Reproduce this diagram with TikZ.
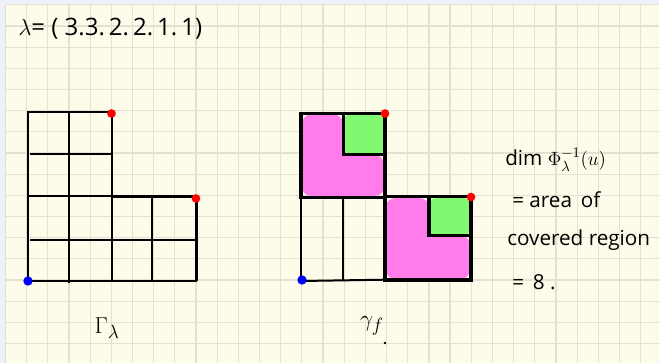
\documentclass[tikz,border=0pt]{standalone}
\usepackage{fontspec}
\setmainfont{Open Sans}
\begin{document}
\begin{tikzpicture}[x=0.75pt,y=-0.75pt,
  txt/.style={anchor=west,inner sep=0pt,font=\fontsize{15.5}{18}\selectfont},
  lbl/.style={inner sep=0pt,font=\fontsize{19}{21}\selectfont},
  thin/.style={line width=1.5pt,black},
  mid/.style={line width=1.6pt,black},
  thick/.style={line width=2.3pt,black},
  reddot/.style={fill=red,circle,minimum size=6.5pt,inner sep=0pt},
  bluedot/.style={fill=blue,circle,minimum size=7pt,inner sep=0pt}]
\definecolor{paper}{HTML}{FDFBEA}
\definecolor{lav}{HTML}{EEF0FB}
\definecolor{gridc}{HTML}{E4E1D0}
\definecolor{pinkc}{HTML}{FF7CEA}
\definecolor{greenc}{HTML}{80F870}
\useasboundingbox (0,0) rectangle (659,363);
\fill[lav] (0,0) rectangle (659,363);
\fill[paper] (5.5,4.8) rectangle (659,363);
\foreach \k in {0,...,31} {\draw[gridc,line width=0.9pt] (5.5+21.17*\k,4.8) -- (5.5+21.17*\k,363);}
\foreach \k in {0,...,17} {\draw[gridc,line width=0.9pt] (5.5,4.8+21.17*\k) -- (659,4.8+21.17*\k);}

% title
\node[txt,font=\fontsize{18}{20}\selectfont] (title) at (18,29) {$\lambda$= ( 3.3.\kern3pt2.\kern3pt2.\kern3pt1.\kern3pt1)};

% left diagram
\draw[mid] (196.5,281) -- (28,281) -- (28,111.7) -- (111.7,111.7) -- (111.7,196.5) -- (196.5,196.5) -- (196.5,281);
\draw[mid] (30,154.3) -- (113,154.3);
\draw[mid] (28,196) -- (111.7,196);
\draw[mid] (30,240) -- (197,240);
\draw[mid] (69.3,111.7) -- (69.3,283);
\draw[mid] (111.7,196) -- (111.7,281);
\draw[mid] (152.3,198) -- (152.3,281);
\node[reddot] (r1) at (111.5,113.5) {};
\node[reddot] (r2) at (196,198.5) {};
\node[bluedot] (b1) at (28,281) {};
\node[lbl] (gam) at (107,328) {$\Gamma_\lambda$};

% right diagram fills
\fill[pinkc,rounded corners=7pt] (302,114.5) -- (343,114.5) -- (343,155) -- (384,155) -- (384,196) -- (302,196) -- cycle;
\fill[greenc,rounded corners=4pt] (344,114.5) rectangle (384,154);
\fill[pinkc,rounded corners=7pt] (386,198) -- (429,198) -- (429,236) -- (470,236) -- (470,279) -- (386,279) -- cycle;
\fill[greenc,rounded corners=4pt] (430,198) rectangle (470,235);
% right diagram lines
\draw[thin] (301,197) -- (301,280);
\draw[thin] (343.3,197) -- (343.3,280);
\draw[thin] (301,281) -- (385,279.7);
\draw[thick] (301,197.3) -- (301,113.3) -- (385,113.3) -- (385,197.3) -- cycle;
\draw[thick] (343.3,113.3) -- (343.3,154.3) -- (385,154.3);
\draw[thick] (385,196.7) -- (471,196.7) -- (471,280) -- (385,280) -- cycle;
\draw[thick] (429,196.7) -- (429,235.7) -- (471,235.7);
\node[reddot] (r3) at (385,113.5) {};
\node[reddot] (r4) at (471,197) {};
\node[bluedot] (b2) at (302,280) {};
\node[lbl] (gf) at (372,326) {$\gamma_f$};
\fill (385,343) circle (1pt);

% right text
\node[txt] (t1) at (505,160) {dim $\Phi_\lambda^{-1}(u)$};
\node[txt] (t2) at (512,200) {= area\, of};
\node[txt] (t3) at (507,240) {covered region};
\node[txt] (t4) at (512,282) {=\, 8 .};
\end{tikzpicture}
\end{document}
